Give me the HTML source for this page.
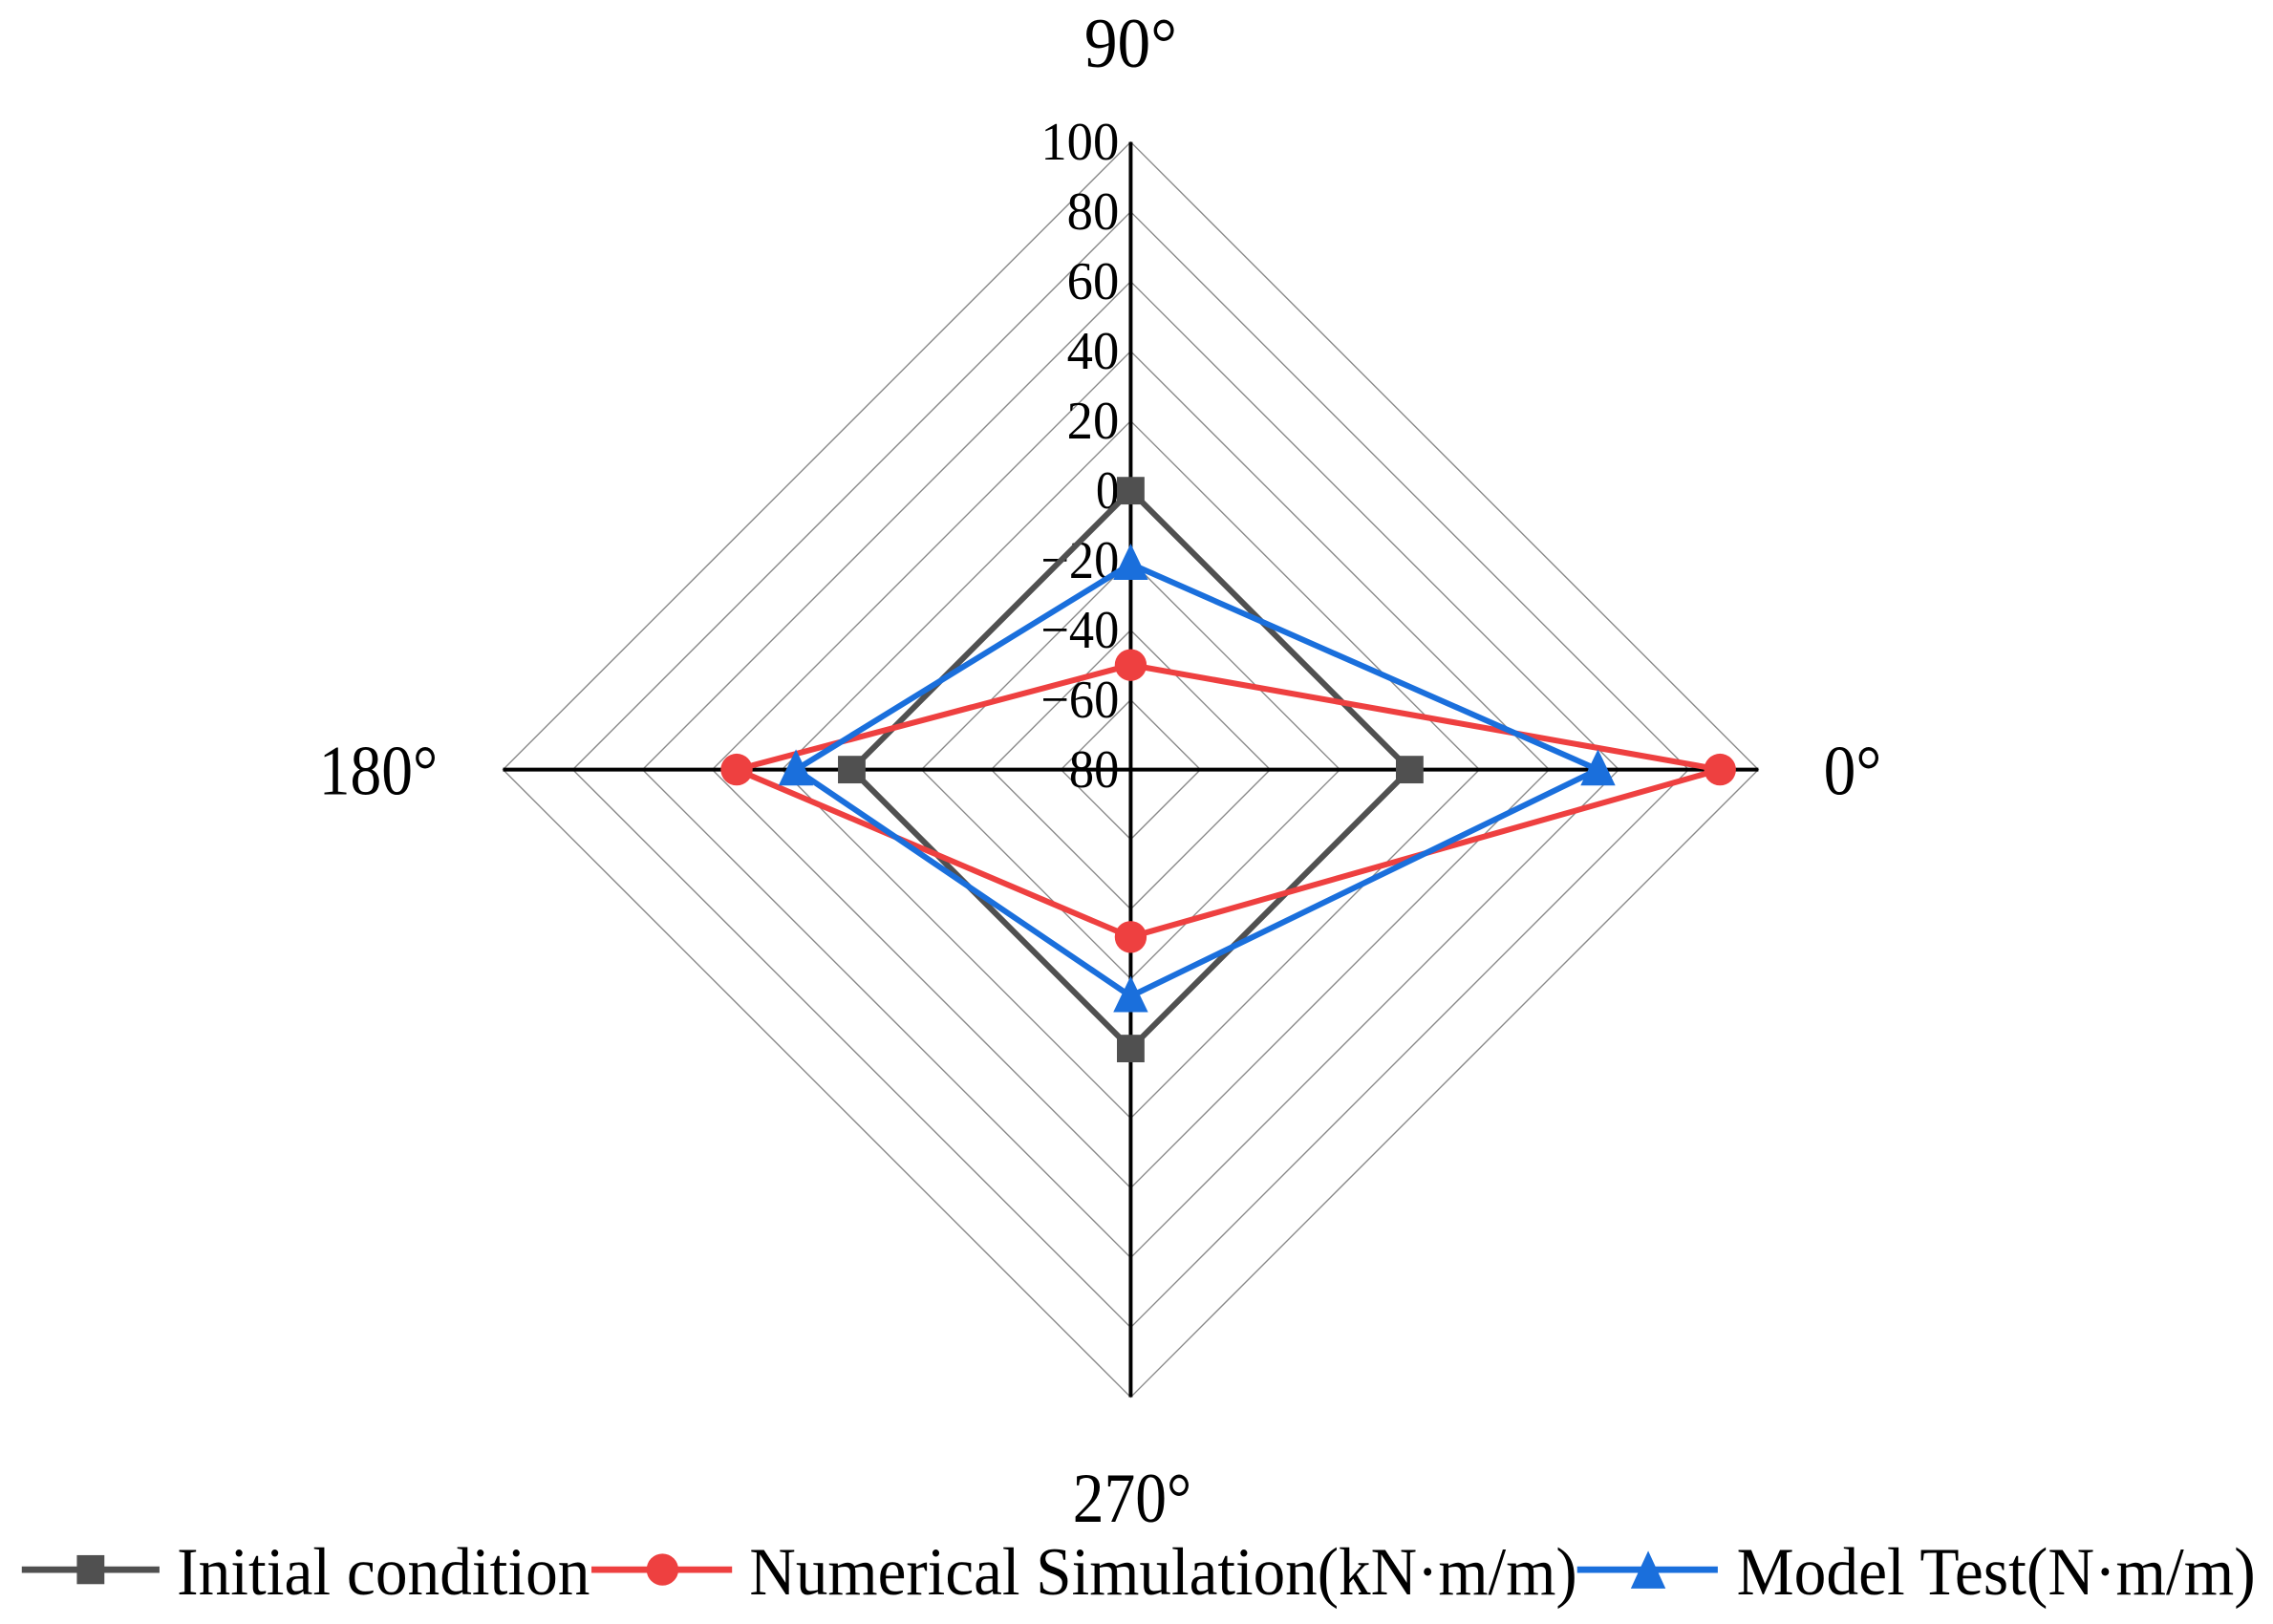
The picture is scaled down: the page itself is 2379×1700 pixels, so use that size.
<!DOCTYPE html>
<html><head><meta charset="utf-8"><style>
html,body{margin:0;padding:0;background:#fff;}
svg{display:block;font-family:"Liberation Serif",serif;}
</style></head><body>
<svg id="chart" width="2379" height="1700" viewBox="0 0 1568 1120.5" xmlns="http://www.w3.org/2000/svg">
<g id="grid"></g>
<g id="axes"></g>
<g id="ticks"></g>
<g id="series"></g>
<g font-size="49">
<text x="780" y="46" text-anchor="middle" textLength="64" lengthAdjust="spacingAndGlyphs">90°</text>
<text x="220" y="548" textLength="82" lengthAdjust="spacingAndGlyphs">180°</text>
<text x="1258" y="548" textLength="40" lengthAdjust="spacingAndGlyphs">0°</text>
<text x="740" y="1050" textLength="82" lengthAdjust="spacingAndGlyphs">270°</text>
</g>
<g font-size="47">
<g>
<line x1="15" y1="1083" x2="110" y2="1083" stroke="#505050" stroke-width="4.5"/>
<rect x="53" y="1073" width="19" height="20" fill="#505050"/>
<text x="122" y="1100" textLength="285" lengthAdjust="spacingAndGlyphs">Initial condition</text>
</g>
<g>
<line x1="408" y1="1083" x2="505" y2="1083" stroke="#ee4040" stroke-width="4.5"/>
<circle cx="457" cy="1083" r="11" fill="#ee4040"/>
<text x="517" y="1100" textLength="571" lengthAdjust="spacingAndGlyphs">Numerical Simulation(kN·m/m)</text>
</g>
<g>
<line x1="1088" y1="1083" x2="1185" y2="1083" stroke="#1a6fdc" stroke-width="4.5"/>
<polygon points="1137,1070 1125,1096 1149,1096" fill="#1a6fdc"/>
<text x="1198" y="1100" textLength="358" lengthAdjust="spacingAndGlyphs">Model Test(N·m/m)</text>
</g>
</g>
</svg>
<script>
const angles = [0, 90, 180, 270];
const tickValues = [-80, -60, -40, -20, 0, 20, 40, 60, 80, 100];
const tickLabels = ["\u221280", "\u221260", "\u221240", "\u221220", "0", "20", "40", "60", "80", "100"];
const initialValues = [0, 0, 0, 0];
const numericalValues = [89, -50, 33, -32];
const modelValues = [54, -21, 16, -15];

const NS = "http://www.w3.org/2000/svg";
const cx = 780, cy = 531, R = 433, vmin = -80, vmax = 100;
function r(v){ return (v - vmin) / (vmax - vmin) * R; }
function pt(a, v){ const t = a * Math.PI / 180; return [cx + r(v) * Math.cos(t), cy - r(v) * Math.sin(t)]; }
function mk(tag, attrs, parent){ const e = document.createElementNS(NS, tag); for (const k in attrs) e.setAttribute(k, attrs[k]); parent.appendChild(e); return e; }

const grid = document.getElementById('grid');
tickValues.forEach((v, i) => {
  if (i === 0) return;
  const p = angles.map(a => pt(a, v).join(',')).join(' ');
  const g = mk('polygon', {points: p, fill: 'none', stroke: '#888', 'stroke-width': 0.9}, grid);
  
  
});
const axes = document.getElementById('axes');
angles.forEach(a => {
  const [x, y] = pt(a, vmax);
  const l = mk('line', {x1: cx, y1: cy, x2: x, y2: y, stroke: '#000', 'stroke-width': 2.6}, axes);
  
  
});
const ticks = document.getElementById('ticks');
const widths = {1: 16, 2: 36, 3: 54};
tickValues.forEach((v, i) => {
  const y = cy - r(v);
  const lab = tickLabels[i];
  const t = mk('text', {x: 772, y: y + 12, 'text-anchor': 'end', 'font-size': 37, textLength: widths[lab.length], lengthAdjust: 'spacingAndGlyphs'}, ticks);
  t.textContent = lab;
  
  
});
const series = document.getElementById('series');
function drawSeries(vals, color, marker, name){
  const g = mk('g', {}, series);
  
  
  const pts = angles.map((a, i) => pt(a, vals[i]));
  const l = mk('polygon', {points: pts.map(p => p.join(',')).join(' '), fill: 'none', stroke: color, 'stroke-width': 4}, g);
  
  
  pts.forEach(([x, y]) => {
    let m;
    if (marker === 'square') m = mk('rect', {x: x - 9.5, y: y - 9.5, width: 19, height: 19, fill: color}, g);
    else if (marker === 'circle') m = mk('circle', {cx: x, cy: y, r: 11, fill: color}, g);
    else m = mk('polygon', {points: `${x},${y-14} ${x-12},${y+11} ${x+12},${y+11}`, fill: color}, g);
    
    
  });
}
drawSeries(initialValues, '#505050', 'square', 'initial-condition');
drawSeries(numericalValues, '#ee4040', 'circle', 'numerical-simulation');
drawSeries(modelValues, '#1a6fdc', 'triangle', 'model-test');
</script>
</body></html>
